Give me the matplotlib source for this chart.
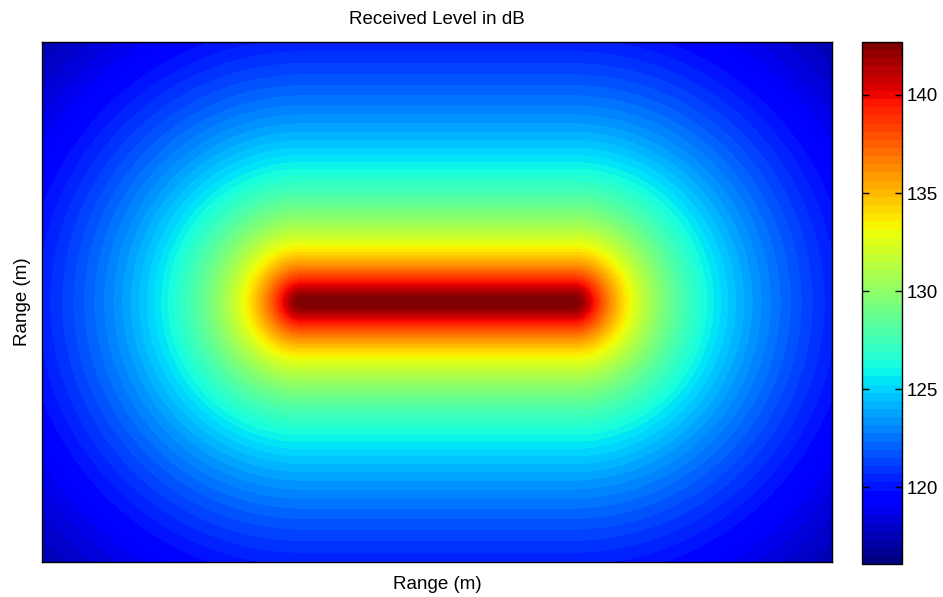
import matplotlib
matplotlib.use("Agg")
import matplotlib.pyplot as plt
import numpy as np

# model parameters (grid units = metres)
range_x = [0, 790]
range_y = [0, 520]
source_x = [259, 531]      # ends of the line source
source_y = 260
source_depth = 20
source_level = 168.7       # dB re 1 m
spreading = 20             # spherical spreading

clim = [116.1, 142.7]
cbar_ticks = [120, 125, 130, 135, 140]

plt.rcParams['font.family'] = ['Liberation Sans', 'DejaVu Sans']

xs = np.arange(range_x[0], range_x[1] + 1)
ys = np.arange(range_y[0], range_y[1] + 1)
X, Y = np.meshgrid(xs, ys)

# distance to the line source (closest point on the segment)
dx = np.maximum(np.maximum(source_x[0] - X, X - source_x[1]), 0)
dy = Y - source_y
r = np.sqrt(dx**2 + dy**2 + source_depth**2)
level = source_level - spreading * np.log10(r)

fig = plt.figure(figsize=(9.43, 5.97), dpi=100)
ax = fig.add_axes([0.0445, 0.0586, 0.8378, 0.871])
cax = fig.add_axes([0.9141, 0.0553, 0.0424, 0.8744])

cmap = plt.get_cmap('jet', 64)
im = ax.imshow(level, cmap=cmap, vmin=clim[0], vmax=clim[1], origin='lower',
               extent=[range_x[0], range_x[1], range_y[0], range_y[1]],
               aspect='auto', interpolation='nearest')
ax.set_xticks([])
ax.set_yticks([])
ax.set_xlabel("Range (m)", fontsize=13.5, labelpad=10)
ax.set_ylabel("Range (m)", fontsize=13.5, labelpad=8)
ax.set_title("Received Level in dB", fontsize=13.5, pad=13)
for s in ax.spines.values():
    s.set_linewidth(1.0)

cb = fig.colorbar(im, cax=cax, ticks=cbar_ticks)
cb.outline.set_linewidth(1.0)
cax.tick_params(direction='in', length=5, width=1, left=True, right=True,
                labelsize=13.5, pad=3)

fig.savefig("out.png", dpi=100)
